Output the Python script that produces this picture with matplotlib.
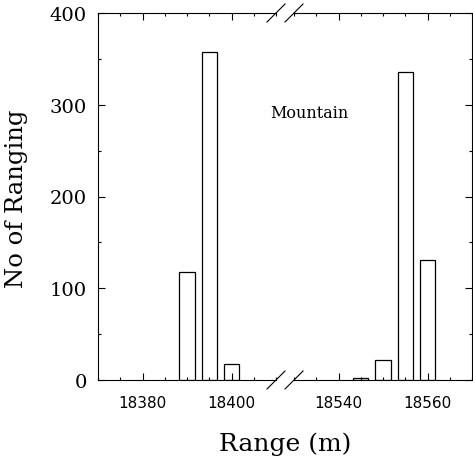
import matplotlib as mpl
mpl.use('Agg')
import matplotlib.pyplot as plt

# bin centres (m) and counts
near_range = [18390, 18395, 18400]
near_count = [118, 358, 17]
far_range = [18545, 18550, 18555, 18560]
far_count = [2, 22, 336, 131]

bar_w = 3.4
fig = plt.figure(figsize=(4.73, 4.6), dpi=100)

axL = fig.add_axes([98/473, 79/460, 178/473, 367/460])
axR = fig.add_axes([294/473, 79/460, 178/473, 367/460])

for ax, xs, ys, lim, ticks in [(axL, near_range, near_count, (18370, 18410), [18380, 18400]),
                               (axR, far_range, far_count, (18530, 18570), [18540, 18560])]:
    ax.bar(xs, ys, width=bar_w, color='white', edgecolor='black', linewidth=0.9)
    ax.set_xlim(*lim)
    ax.set_ylim(0, 400)
    ax.set_xticks(ticks)
    ax.set_xticks(range(lim[0], lim[1] + 1, 5), minor=True)
    ax.set_yticks([0, 100, 200, 300, 400])
    ax.set_yticks([50, 150, 250, 350], minor=True)
    ax.tick_params(which='both', direction='in', top=True, width=0.8)
    ax.tick_params(which='major', length=5)
    ax.tick_params(which='minor', length=2.2)
    ax.tick_params(axis='x', pad=11, labelsize=11)
    for s in ax.spines.values():
        s.set_linewidth(0.8)
    for lab in ax.get_xticklabels():
        lab.set_fontfamily('DejaVu Sans')

axL.spines['right'].set_visible(False)
axL.tick_params(which='both', right=False, left=True)
axL.tick_params(axis='y', pad=8, labelsize=14)
for lab in axL.get_yticklabels():
    lab.set_fontfamily('DejaVu Serif')

axR.spines['left'].set_visible(False)
axR.tick_params(which='both', left=False, right=True, labelleft=False)

# break marks
d = 9
W, H = 473, 460
for xc in (276, 294):
    for yc in (460 - 381, 460 - 14):
        fig.add_artist(plt.Line2D([(xc - d) / W, (xc + d) / W], [(yc - d) / H, (yc + d) / H],
                                  color='black', linewidth=0.8))

fig.text(309/473, 1 - 113/460, 'Mountain', ha='center', va='center',
         fontsize=11.5, family='DejaVu Serif')
fig.text(17/473, 1 - 199/460, 'No of Ranging', rotation=90, ha='center', va='center',
         fontsize=17.5, family='DejaVu Serif')
fig.text(285/473, 1 - 451/460, 'Range (m)', ha='center', va='baseline',
         fontsize=18, family='DejaVu Serif')

fig.savefig('out.png', dpi=100)
